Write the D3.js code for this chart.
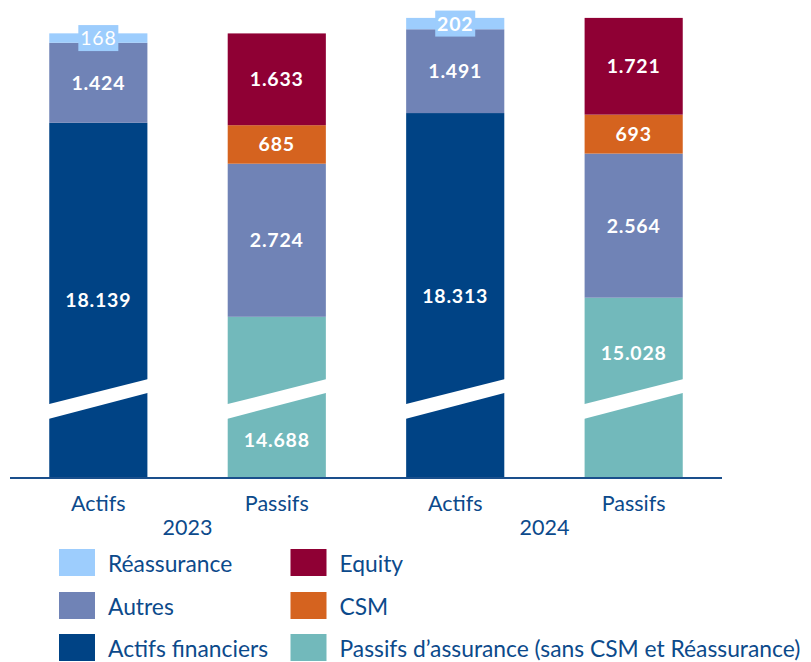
<!DOCTYPE html>
<html>
<head>
<meta charset="utf-8">
<script src="https://cdn.jsdelivr.net/npm/d3@7/dist/d3.min.js"></script>
<style>
  html, body { margin: 0; padding: 0; background: #ffffff; }
  svg { display: block; font-family: Lato, "Open Sans", sans-serif; }
</style>
</head>
<body>
<svg id="chart" width="811" height="662"></svg>
<script>
// Bilan simplifié (en millions) : actifs et passifs, 2023 et 2024
const years = ["2023", "2024"];
const columns = ["Actifs", "Passifs"];

// Actifs
const actifsFinanciers = [18139, 18313];
const actifsAutres = [1424, 1491];
const reassurance = [168, 202];

// Passifs
const passifsAssurance = [14688, 15028];
const passifsAutres = [2724, 2564];
const csm = [685, 693];
const equity = [1633, 1721];

const seriesNames = {
  reass: "Réassurance",
  autres: "Autres",
  fin: "Actifs financiers",
  equity: "Equity",
  csm: "CSM",
  pa: "Passifs d’assurance (sans CSM et Réassurance)"
};

const colors = {
  reass: "#9dcdfd",
  autres: "#7083b6",
  fin: "#004385",
  equity: "#8f0034",
  csm: "#d5631f",
  pa: "#72b9bb"
};

const textBlue = "#0c4a8b";

// Stacks per bar, bottom to top
const bars = [];
years.forEach((yr, i) => {
  bars.push({ year: yr, col: "Actifs", key: yr + "-A", stack: [
    { k: "fin", v: actifsFinanciers[i] },
    { k: "autres", v: actifsAutres[i] },
    { k: "reass", v: reassurance[i] }
  ]});
  bars.push({ year: yr, col: "Passifs", key: yr + "-P", stack: [
    { k: "pa", v: passifsAssurance[i] },
    { k: "autres", v: passifsAutres[i] },
    { k: "csm", v: csm[i] },
    { k: "equity", v: equity[i] }
  ]});
});
bars.forEach(b => {
  let acc = 0;
  b.stack.forEach(s => { s.y0 = acc; acc += s.v; s.y1 = acc; });
  b.total = acc;
});

const fmt = v => d3.format(",")(v).replace(/,/g, ".");

const svg = d3.select("#chart");
const baseY = 478;

// Broken value axis: the bottom of the bars starts well above zero
const axisFloor = 11820;
const y = d3.scaleLinear()
  .domain([axisFloor, d3.max(bars, b => b.total)])
  .range([baseY, 17.9]);

const x = d3.scaleBand()
  .domain(bars.map(b => b.key))
  .range([10, 722])
  .paddingInner(0.45)
  .paddingOuter(0.22);

const g = svg.append("g");

const barG = g.selectAll("g.bar").data(bars).enter().append("g").attr("class", "bar");

barG.selectAll("rect.seg")
  .data(b => b.stack.map(s => Object.assign({ bar: b }, s)))
  .enter().append("rect")
  .attr("class", "seg")
  .attr("x", d => x(d.bar.key))
  .attr("width", x.bandwidth())
  .attr("y", d => y(Math.max(d.y1, axisFloor)))
  .attr("height", d => y(Math.max(d.y0, axisFloor)) - y(Math.max(d.y1, axisFloor)))
  .attr("fill", d => colors[d.k]);

// Diagonal break band across the bottom segment of each bar
barG.append("polygon")
  .attr("points", b => {
    const x0 = x(b.key) - 1, x1 = x(b.key) + x.bandwidth() + 1;
    return [[x0, 404.3], [x1, 379], [x1, 392.7], [x0, 419]].map(p => p.join(",")).join(" ");
  })
  .attr("fill", "#ffffff");

// Value labels
const labelOverride = { "2023-P": 440, "2024-P": 353 };
barG.each(function(b) {
  const gg = d3.select(this);
  const cx = x(b.key) + x.bandwidth() / 2;
  b.stack.forEach((s, idx) => {
    let cy = (y(Math.max(s.y0, axisFloor)) + y(s.y1)) / 2;
    if (idx === 0 && labelOverride[b.key] !== undefined) cy = labelOverride[b.key];
    if (s.k === "reass") {
      gg.append("rect")
        .attr("x", cx - 20).attr("y", cy - 13)
        .attr("width", 40).attr("height", 26)
        .attr("fill", colors.reass);
    }
    gg.append("text")
      .attr("x", cx)
      .attr("y", cy)
      .attr("dy", "0.36em")
      .attr("text-anchor", "middle")
      .attr("fill", "#ffffff")
      .attr("font-size", 19.5)
      .attr("font-weight", (s.k === "reass" && b.year === "2023") ? 400 : 700)
      .attr("letter-spacing", 0.8)
      .text(fmt(s.v));
  });
});

// Baseline
g.append("line")
  .attr("x1", 10).attr("x2", 722)
  .attr("y1", baseY).attr("y2", baseY)
  .attr("stroke", "#1a4f8c").attr("stroke-width", 2);

// Category labels
g.selectAll("text.cat").data(bars).enter().append("text")
  .attr("class", "cat")
  .attr("x", b => x(b.key) + x.bandwidth() / 2)
  .attr("y", 511)
  .attr("text-anchor", "middle")
  .attr("fill", textBlue)
  .attr("font-size", 21.5)
  .text(b => b.col);

g.selectAll("text.year").data(years).enter().append("text")
  .attr("class", "year")
  .attr("x", yr => (x(yr + "-A") + x(yr + "-P") + x.bandwidth()) / 2)
  .attr("y", 535)
  .attr("text-anchor", "middle")
  .attr("fill", textBlue)
  .attr("font-size", 21.5)
  .text(yr => yr);

// Legend
const legendItems = [
  { k: "reass", col: 0, row: 0 },
  { k: "autres", col: 0, row: 1 },
  { k: "fin", col: 0, row: 2 },
  { k: "equity", col: 1, row: 0 },
  { k: "csm", col: 1, row: 1 },
  { k: "pa", col: 1, row: 2 }
];
const legX = [59, 290.5];
const legY = [549, 592, 634];
const leg = g.selectAll("g.leg").data(legendItems).enter().append("g")
  .attr("class", "leg")
  .attr("transform", d => `translate(${legX[d.col]},${legY[d.row]})`);
leg.append("rect")
  .attr("width", 36).attr("height", 27)
  .attr("fill", d => colors[d.k]);
leg.append("text")
  .attr("x", 49).attr("y", 22.5)
  .attr("fill", textBlue)
  .attr("font-size", 22.8)
  .text(d => seriesNames[d.k]);
</script>
</body>
</html>
